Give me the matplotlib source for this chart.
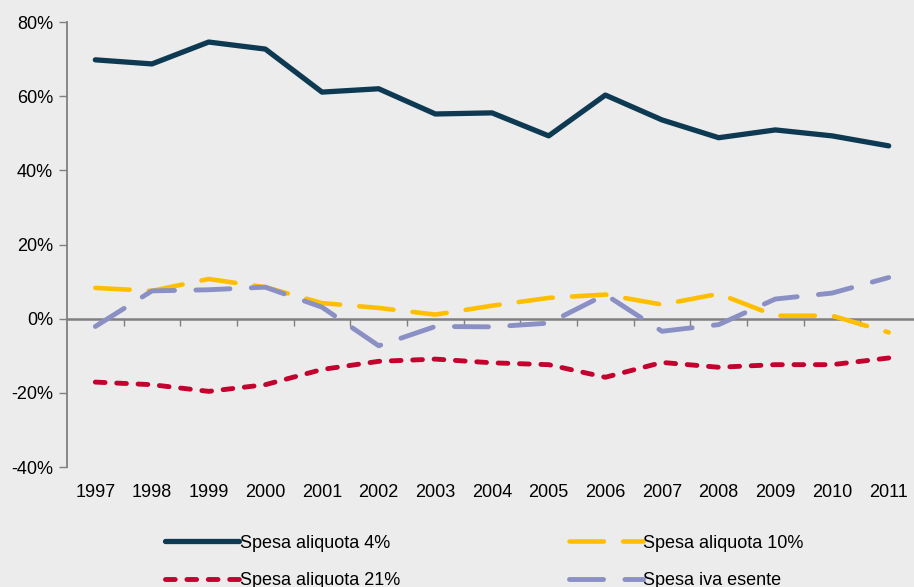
import matplotlib.pyplot as plt
from matplotlib.ticker import FuncFormatter

# data (percent)
years = list(range(1997, 2012))
aliquota_4 = [69.8, 68.7, 74.6, 72.7, 61.1, 62.0, 55.2, 55.5, 49.3, 60.3, 53.6, 48.8, 50.9, 49.3, 46.6]
aliquota_10 = [8.3, 7.5, 10.7, 8.5, 4.2, 2.9, 1.1, 3.5, 5.6, 6.5, 3.8, 6.7, 0.8, 0.8, -3.7]
aliquota_21 = [-17.1, -17.8, -19.6, -17.8, -13.7, -11.5, -10.9, -11.9, -12.4, -15.8, -11.8, -13.1, -12.4, -12.4, -10.6]
iva_esente = [-2.1, 7.5, 7.8, 8.5, 3.1, -7.3, -2.1, -2.2, -1.2, 6.5, -3.4, -1.6, 5.3, 6.9, 11.1]

bg = '#EBECEB'
plt.rcParams['font.family'] = ['Liberation Sans', 'DejaVu Sans']

fig = plt.figure(figsize=(9.14, 5.87), dpi=100, facecolor=bg)
ax = fig.add_axes([0.0733, 0.2044, 0.93, 0.7581], facecolor=bg)

# series
l4, = ax.plot(years, aliquota_4, color='#0D3A52', lw=3.8, solid_capstyle='round',
              label='Spesa aliquota 4%')
l10, = ax.plot(years, aliquota_10, color='#FFBF00', lw=3.3, dash_capstyle='round',
               dashes=(7.5, 4.2), label='Spesa aliquota 10%')
l21, = ax.plot(years, aliquota_21, color='#C4002E', lw=3.5, dash_capstyle='round',
               dashes=(2.0, 2.4), label='Spesa aliquota 21%')
lex, = ax.plot(years, iva_esente, color='#8A90C4', lw=3.5, dash_capstyle='round',
               dashes=(7.0, 4.4), label='Spesa iva esente')
lex.set_zorder(2.5)

# axes
ax.set_xlim(1996.5, 2011.5)
ax.set_ylim(-40, 80)
ax.set_yticks(range(-40, 81, 20))
ax.yaxis.set_major_formatter(FuncFormatter(lambda v, p: f'{v:.0f}%'))
ax.tick_params(axis='y', labelsize=13, length=6, width=1, color='#808080', pad=4)

for side in ['top', 'right']:
    ax.spines[side].set_visible(False)
ax.spines['left'].set_color('#808080')
ax.spines['left'].set_linewidth(1.3)
ax.spines['bottom'].set_position(('data', 0))
ax.spines['bottom'].set_color('#808080')
ax.spines['bottom'].set_linewidth(1.8)
ax.spines['bottom'].set_zorder(1)

# ticks on the zero line between categories, labels at the bottom
ax.set_xticks([y + 0.5 for y in years])
ax.set_xticklabels([])
ax.tick_params(axis='x', length=5, width=1, color='#808080', direction='out')

sec = ax.secondary_xaxis(0)
sec.set_xticks(years)
sec.set_xticklabels([str(y) for y in years])
sec.spines['bottom'].set_visible(False)
sec.tick_params(length=0, labelsize=13, pad=12)

# legend
fig.legend(handles=[l4, l21, l10, lex], ncol=2, frameon=False, fontsize=13,
           loc='upper left', bbox_to_anchor=(0.181, 0.089), borderpad=0,
           handlelength=4.1, handletextpad=0.05, columnspacing=9.3,
           labelspacing=1.12, borderaxespad=0)

fig.savefig('out.png', dpi=100, facecolor=bg)
